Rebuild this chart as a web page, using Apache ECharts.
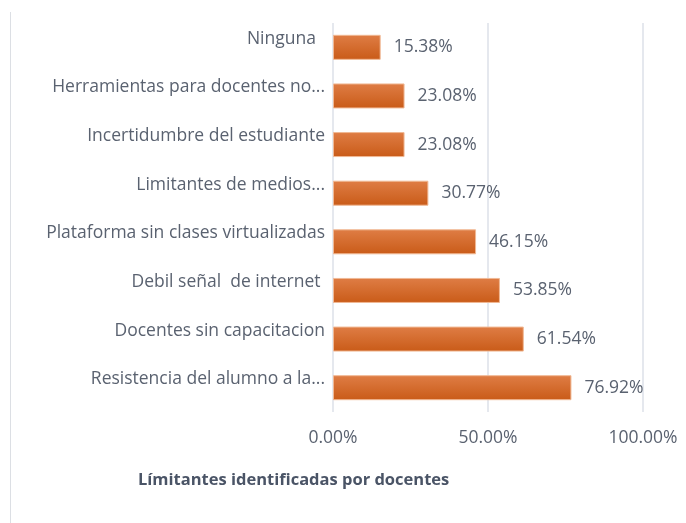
<!DOCTYPE html>
<html><head><meta charset="utf-8">
<script src="https://cdn.jsdelivr.net/npm/echarts@6/dist/echarts.min.js"></script>
<style>html,body{margin:0;padding:0;background:#fff}#c{width:686px;height:523px}</style>
</head><body><div id="c"></div>
<script>
const categories = [
  "Resistencia del alumno a la...",
  "Docentes sin capacitacion",
  "Debil señal  de internet ",
  "Plataforma sin clases virtualizadas",
  "Limitantes de medios...",
  "Incertidumbre del estudiante",
  "Herramientas para docentes no...",
  "Ninguna  "
];
const values = [76.92, 61.54, 53.85, 46.15, 30.77, 23.08, 23.08, 15.38];
const xTicks = [0, 50, 100];
const titleText = "Límitantes identificadas por docentes";

const FONT = "'Open Sans', 'Noto Sans', sans-serif";
const chart = echarts.init(document.getElementById('c'));
chart.setOption({
  animation: false,
  backgroundColor: '#fff',
  title: {
    text: titleText, left: 133, top: 467,
    textStyle: { fontFamily: FONT, fontSize: 16.5, fontWeight: 'bold', color: '#4a5466' }
  },
  graphic: [{
    type: 'line', shape: { x1: 10.5, y1: 12, x2: 10.5, y2: 523 },
    style: { stroke: '#dcdfe4', lineWidth: 1 }
  }],
  grid: { left: 333, right: 43, top: 23, bottom: 111, containLabel: false },
  xAxis: {
    type: 'value', min: xTicks[0], max: xTicks[xTicks.length - 1], interval: 50,
    axisLine: { show: false }, axisTick: { show: false },
    splitLine: { show: true, lineStyle: { color: '#dde1e8', width: 1.5 } },
    axisLabel: {
      margin: 17, fontFamily: FONT, fontSize: 17.5, color: '#5a6270',
      formatter: v => v.toFixed(2) + '%'
    }
  },
  yAxis: {
    type: 'category', data: categories,
    axisLine: { show: false }, axisTick: { show: false },
    axisLabel: { margin: 8, fontFamily: FONT, fontSize: 17.5, color: '#5a6270',
      lineHeight: 17, formatter: v => v + '\n ' }
  },
  series: [{
    type: 'bar', data: values, barWidth: 25,
    itemStyle: {
      color: new echarts.graphic.LinearGradient(0, 0, 0, 1, [
        { offset: 0, color: '#df7d45' }, { offset: 1, color: '#c95b18' }
      ]),
      borderColor: '#f0b894', borderWidth: 1
    },
    label: {
      show: true, position: 'right', distance: 13,
      fontFamily: FONT, fontSize: 17.5, color: '#5a6270',
      formatter: p => p.value.toFixed(2) + '%'
    }
  }]
});
</script></body></html>
